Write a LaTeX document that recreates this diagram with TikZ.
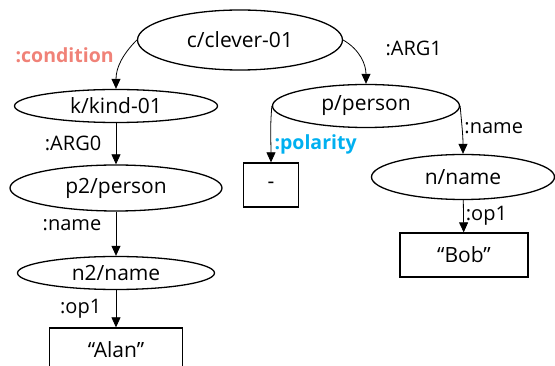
\documentclass[tikz,border=0pt]{standalone}
\usepackage{fontspec}
\setmainfont{Open Sans}
\usetikzlibrary{shapes.geometric, arrows.meta}
\definecolor{condred}{RGB}{240,130,120}
\definecolor{polblue}{RGB}{0,176,240}

\begin{document}
\begin{tikzpicture}[x=1pt, y=-1pt, >={Triangle[length=10pt, width=9pt]},
	e/.style={ellipse, draw, line width=1.3pt, inner sep=0pt, font=\fontsize{21}{24}\selectfont},
	b/.style={rectangle, draw, line width=1.3pt, inner sep=0pt, font=\fontsize{21}{24}\selectfont},
	lbl/.style={font=\fontsize{20}{22}\selectfont},
	hl/.style={font=\bfseries\fontsize{19.5}{22}\selectfont}]
		\useasboundingbox (0,0) rectangle (555,366);

		\node [e, minimum width=205pt, minimum height=60pt] (C) at (240,40) {c/clever-01};
		\node [e, minimum width=203pt, minimum height=33pt] (K) at (116,106) {k/kind-01};
		\node [e, minimum width=212pt, minimum height=46pt] (P2) at (116,188) {p2/person};
		\node [e, minimum width=197pt, minimum height=33pt] (N2) at (116,273) {n2/name};
		\node [b, minimum width=133pt, minimum height=44pt] (Alan) at (116,350) {“Alan”};
		\node [e, minimum width=187pt, minimum height=43pt] (P) at (366,106) {p/person};
		\node [b, minimum width=55pt, minimum height=44pt] (Neg) at (271,185) {-};
		\node [e, minimum width=183pt, minimum height=45pt] (N) at (463,177) {n/name};
		\node [b, minimum width=128pt, minimum height=44pt] (Bob) at (464,255) {“Bob”};

		\path[->, line width=0.8pt] (C.west) edge [out=225, in=90] node [pos=0.35, left, xshift=-7pt, hl, text=condred] {:condition} (K);
		\path[->, line width=0.8pt] (C.east) edge [out=-30, in=90] node [pos=0.25, right, xshift=28pt, lbl] {:ARG1} (P);
		\path[->, line width=0.8pt] (K) edge node [left, xshift=-11pt, lbl] {:ARG0} (P2);
		\path[->, line width=0.8pt] (P2) edge node [pos=0.3, left, xshift=-11pt, lbl] {:name} (N2);
		\path[->, line width=0.8pt] (N2) edge node [left, xshift=-11pt, lbl] {:op1} (Alan);
		\path[->, line width=0.8pt] (P.west) edge [out=-95, in=90] node [pos=0.7, right, hl, text=polblue] {:polarity} (Neg);
		\path[->, line width=0.8pt] (P.east) edge [out=-85, in=90] node [pos=0.45, right, inner sep=2pt, lbl] {:name} (N);
		\path[->, line width=0.8pt] (N) edge node [right, inner sep=2pt, lbl] {:op1} (Bob);
	\end{tikzpicture}
\end{document}
